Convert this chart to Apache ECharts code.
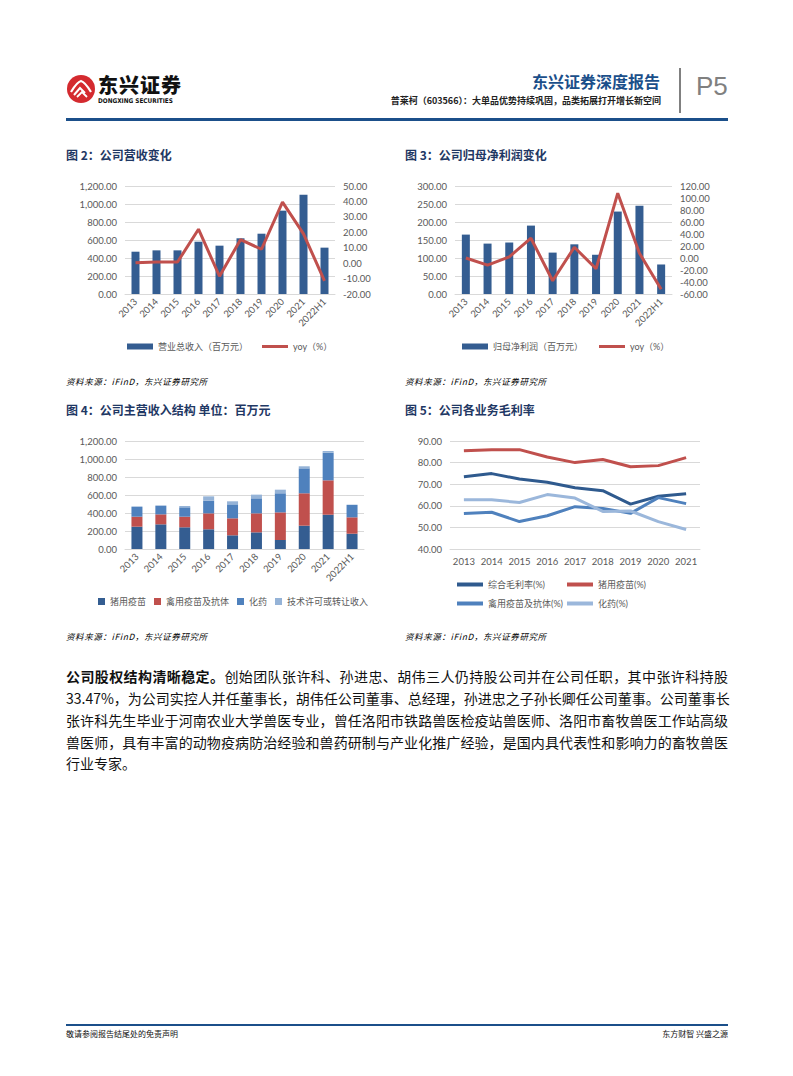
<!DOCTYPE html>
<html>
<head>
<meta charset="utf-8">
<script src="https://cdn.jsdelivr.net/npm/echarts/dist/echarts.min.js"></script>
<style>
  body { margin: 0; background: #fff; font-family: "Noto Sans CJK SC", sans-serif; }
  .page { position: relative; width: 793px; height: 1076px; overflow: hidden; }
  .abs { position: absolute; white-space: nowrap; }
  .fig-title { font-size: 12px; font-weight: bold; color: #1F3864; }
  .source { font-size: 8.5px; font-style: italic; color: #000; letter-spacing: 0.6px; }
  .chart { position: absolute; width: 330px; height: 200px; }
  .body-line { position: absolute; left: 66px; width: 662px; font-size: 14px; color: #111;
    text-align: justify; text-align-last: justify; white-space: nowrap; line-height: 20px; }
</style>
</head>
<body>
<div class="page">
  <!-- header -->
  <svg class="abs" style="left:66px;top:74px" width="30" height="30" viewBox="0 0 30 30">
    <circle cx="15" cy="15" r="14" fill="#D42A2F"/>
    <path d="M5 18 Q11 8 15 7 Q19 8 25 18" stroke="#fff" stroke-width="2.2" fill="none"/>
    <path d="M8 21 L14 14 L19 19" stroke="#fff" stroke-width="2" fill="none"/>
    <path d="M11 23 L16 18 L21 23" stroke="#fff" stroke-width="1.8" fill="none"/>
  </svg>
  <div class="abs" style="left:98px;top:75px;font-size:20px;line-height:20px;font-weight:900;letter-spacing:1px;color:#111">东兴证券</div>
  <div class="abs" style="left:98px;top:98px;font-size:6.4px;line-height:6px;font-weight:bold;color:#111;font-family:'DejaVu Sans Condensed',sans-serif">DONGXING SECURITIES</div>
  <div class="abs" style="right:133px;top:69px;font-size:16px;font-weight:bold;color:#1B4F8A">东兴证券深度报告</div>
  <div class="abs" style="right:132px;top:94px;font-size:9px;font-weight:bold;color:#222">普莱柯（603566）：大单品优势持续巩固，品类拓展打开增长新空间</div>
  <div class="abs" style="left:679px;top:68px;width:1.5px;height:45px;background:#808080"></div>
  <div class="abs" style="left:696px;top:71px;font-size:26px;color:#808080;font-family:'Liberation Sans',sans-serif">P5</div>
  <div class="abs" style="left:66px;top:118px;width:662px;height:3px;background:#1B4F8A"></div>

  <!-- figure titles -->
  <div class="abs fig-title" style="left:66px;top:146px">图 2：公司营收变化</div>
  <div class="abs fig-title" style="left:405px;top:146px">图 3：公司归母净利润变化</div>
  <div class="abs fig-title" style="left:66px;top:401px">图 4：公司主营收入结构 单位：百万元</div>
  <div class="abs fig-title" style="left:405px;top:401px">图 5：公司各业务毛利率</div>

  <div id="c2" class="chart" style="left:60px;top:165px"></div>
  <div id="c3" class="chart" style="left:400px;top:165px"></div>
  <div id="c4" class="chart" style="left:60px;top:420px"></div>
  <div id="c5" class="chart" style="left:400px;top:420px"></div>

  <div class="abs source" style="left:66px;top:375px">资料来源：iFinD，东兴证券研究所</div>
  <div class="abs source" style="left:405px;top:375px">资料来源：iFinD，东兴证券研究所</div>
  <div class="abs source" style="left:66px;top:630px">资料来源：iFinD，东兴证券研究所</div>
  <div class="abs source" style="left:405px;top:630px">资料来源：iFinD，东兴证券研究所</div>

  <!-- body text -->
  <div class="body-line" style="top:666px"><b>公司股权结构清晰稳定。</b>创始团队张许科、孙进忠、胡伟三人仍持股公司并在公司任职，其中张许科持股</div>
  <div class="body-line" style="top:688px">33.47%，为公司实控人并任董事长，胡伟任公司董事、总经理，孙进忠之子孙长卿任公司董事。公司董事长</div>
  <div class="body-line" style="top:710px">张许科先生毕业于河南农业大学兽医专业，曾任洛阳市铁路兽医检疫站兽医师、洛阳市畜牧兽医工作站高级</div>
  <div class="body-line" style="top:732px">兽医师，具有丰富的动物疫病防治经验和兽药研制与产业化推广经验，是国内具代表性和影响力的畜牧兽医</div>
  <div class="body-line" style="top:753px;text-align:left;text-align-last:left">行业专家。</div>

  <!-- footer -->
  <div class="abs" style="left:66px;top:1024px;width:662px;height:1.5px;background:#1B4F8A"></div>
  <div class="abs" style="left:66px;top:1028px;font-size:8px;color:#111">敬请参阅报告结尾处的免责声明</div>
  <div class="abs" style="right:65px;top:1028px;font-size:8px;color:#111">东方财智 兴盛之源</div>
</div>

<script>
// categories
const years = ['2013', '2014', '2015', '2016', '2017', '2018', '2019', '2020', '2021', '2022H1'];
const marginYears = ['2013', '2014', '2015', '2016', '2017', '2018', '2019', '2020', '2021'];

// 图2 营收
const revenue = [470, 485, 485, 581, 537, 619, 670, 926, 1104, 515];
const revenueYoy = [0.2, 0.8, 0.7, 22.0, -8.5, 15.2, 9.0, 39.5, 19.0, -11.5];

// 图3 归母净利润
const netProfit = [165, 140, 143, 190, 115, 138, 109, 229, 245, 82];
const netProfitYoy = [0, -12, 2, 33, -38, 18, -18, 108, 8, -52];

// 图4 主营收入结构
const swineVaccine = [248, 274, 241, 219, 152, 185, 100, 259, 381, 170];
const poultryVaccine = [111, 111, 118, 177, 189, 211, 307, 360, 382, 182];
const chemDrugs = [108, 93, 104, 141, 155, 167, 212, 277, 307, 137];
const techLicense = [7, 7, 15, 48, 34, 41, 40, 23, 19, 4];

// 图5 毛利率
const grossMargin = [73.5, 74.9, 72.4, 70.9, 68.4, 67.0, 60.8, 64.4, 65.6];
const swineMargin = [85.5, 86.0, 86.0, 82.6, 80.0, 81.4, 78.1, 78.6, 82.3];
const poultryMargin = [56.4, 57.0, 52.7, 55.4, 59.6, 58.8, 56.5, 63.8, 61.0];
const chemMargin = [62.8, 62.8, 61.5, 65.2, 63.6, 57.4, 57.6, 52.7, 49.0];

const FONT = "Lato, 'Noto Sans CJK SC', sans-serif";
const LABEL = '#595959';
const GRID = '#D9D9D9';
const DARK = '#345D91';
const RED = '#C0504D';
const MID = '#4F81BD';
const LIGHT = '#95B3D7';
// legend icon for line series: a flat bar, no dot
const LINE_ICON = 'path://M0,0H26V3H0Z';

function fmt(v) {
  return v.toLocaleString('en-US', { minimumFractionDigits: 2, maximumFractionDigits: 2 });
}

function catAxis(data, rotate, margin) {
  return {
    type: 'category',
    data: data,
    axisTick: { show: false },
    axisLine: { lineStyle: { color: GRID } },
    axisLabel: { color: LABEL, fontSize: 9.5, rotate: rotate, margin: margin, interval: 0 }
  };
}

function valAxis(min, max, interval, split) {
  return {
    type: 'value',
    min: min,
    max: max,
    interval: interval,
    axisTick: { show: false },
    axisLine: { show: false },
    axisLabel: { color: LABEL, fontSize: 9.5, margin: 8, formatter: fmt },
    splitLine: { show: split, lineStyle: { color: GRID } }
  };
}

function init(id) {
  return echarts.init(document.getElementById(id), null, { renderer: 'svg' });
}

// 图2
init('c2').setOption({
  animation: false,
  textStyle: { fontFamily: FONT },
  grid: { left: 65, right: 55, top: 21, height: 108 },
  legend: {
    left: 67, top: 177, padding: 0, itemGap: 14, itemWidth: 26, itemHeight: 6,
    textStyle: { color: LABEL, fontSize: 9 },
    data: [{ name: '营业总收入（百万元）', icon: 'rect' }, { name: 'yoy（%）', icon: LINE_ICON }]
  },
  xAxis: catAxis(years, 45, 6),
  yAxis: [valAxis(0, 1200, 200, true), valAxis(-20, 50, 10, false)],
  series: [
    { name: '营业总收入（百万元）', type: 'bar', data: revenue, barWidth: 8, itemStyle: { color: DARK } },
    { name: 'yoy（%）', type: 'line', yAxisIndex: 1, data: revenueYoy, symbol: 'none',
      lineStyle: { color: RED, width: 3 }, itemStyle: { color: RED } }
  ]
});

// 图3
init('c3').setOption({
  animation: false,
  textStyle: { fontFamily: FONT },
  grid: { left: 55, right: 58, top: 21, height: 108 },
  legend: {
    left: 62, top: 177, padding: 0, itemGap: 16, itemWidth: 26, itemHeight: 6,
    textStyle: { color: LABEL, fontSize: 9 },
    data: [{ name: '归母净利润（百万元）', icon: 'rect' }, { name: 'yoy（%）', icon: LINE_ICON }]
  },
  xAxis: catAxis(years, 45, 6),
  yAxis: [valAxis(0, 300, 50, true), valAxis(-60, 120, 20, false)],
  series: [
    { name: '归母净利润（百万元）', type: 'bar', data: netProfit, barWidth: 8, itemStyle: { color: DARK } },
    { name: 'yoy（%）', type: 'line', yAxisIndex: 1, data: netProfitYoy, symbol: 'none',
      lineStyle: { color: RED, width: 3 }, itemStyle: { color: RED } }
  ]
});

// 图4
init('c4').setOption({
  animation: false,
  textStyle: { fontFamily: FONT },
  grid: { left: 65, right: 26, top: 21, height: 108 },
  legend: {
    left: 38, top: 177, padding: 0, itemGap: 8, itemWidth: 7, itemHeight: 7, icon: 'rect',
    textStyle: { color: LABEL, fontSize: 9 }
  },
  xAxis: catAxis(years, 45, 6),
  yAxis: valAxis(0, 1200, 200, true),
  series: [
    { name: '猪用疫苗', type: 'bar', stack: 's', data: swineVaccine, barWidth: 11, itemStyle: { color: DARK } },
    { name: '禽用疫苗及抗体', type: 'bar', stack: 's', data: poultryVaccine, itemStyle: { color: RED } },
    { name: '化药', type: 'bar', stack: 's', data: chemDrugs, itemStyle: { color: MID } },
    { name: '技术许可或转让收入', type: 'bar', stack: 's', data: techLicense, itemStyle: { color: LIGHT } }
  ]
});

// 图5
const lg = (name, left, top) => ({
  left: left, top: top, padding: 0, itemWidth: 26, itemHeight: 7,
  textStyle: { color: LABEL, fontSize: 9 }, data: [{ name: name, icon: 'path://M0,0H26V4H0Z' }]
});
init('c5').setOption({
  animation: false,
  textStyle: { fontFamily: FONT },
  grid: { left: 50, right: 30, top: 21, height: 108 },
  legend: [
    lg('综合毛利率(%)', 57, 160),
    lg('猪用疫苗(%)', 167, 160),
    lg('禽用疫苗及抗体(%)', 57, 179),
    lg('化药(%)', 167, 179)
  ],
  xAxis: catAxis(marginYears, 0, 8),
  yAxis: valAxis(40, 90, 10, true),
  series: [
    { name: '综合毛利率(%)', type: 'line', data: grossMargin, symbol: 'none', lineStyle: { color: '#2F5A8E', width: 3 }, itemStyle: { color: '#2F5A8E' } },
    { name: '猪用疫苗(%)', type: 'line', data: swineMargin, symbol: 'none', lineStyle: { color: RED, width: 3 }, itemStyle: { color: RED } },
    { name: '禽用疫苗及抗体(%)', type: 'line', data: poultryMargin, symbol: 'none', lineStyle: { color: MID, width: 3 }, itemStyle: { color: MID } },
    { name: '化药(%)', type: 'line', data: chemMargin, symbol: 'none', lineStyle: { color: '#9BB7DB', width: 3 }, itemStyle: { color: '#9BB7DB' } }
  ]
});
</script>
</body>
</html>
